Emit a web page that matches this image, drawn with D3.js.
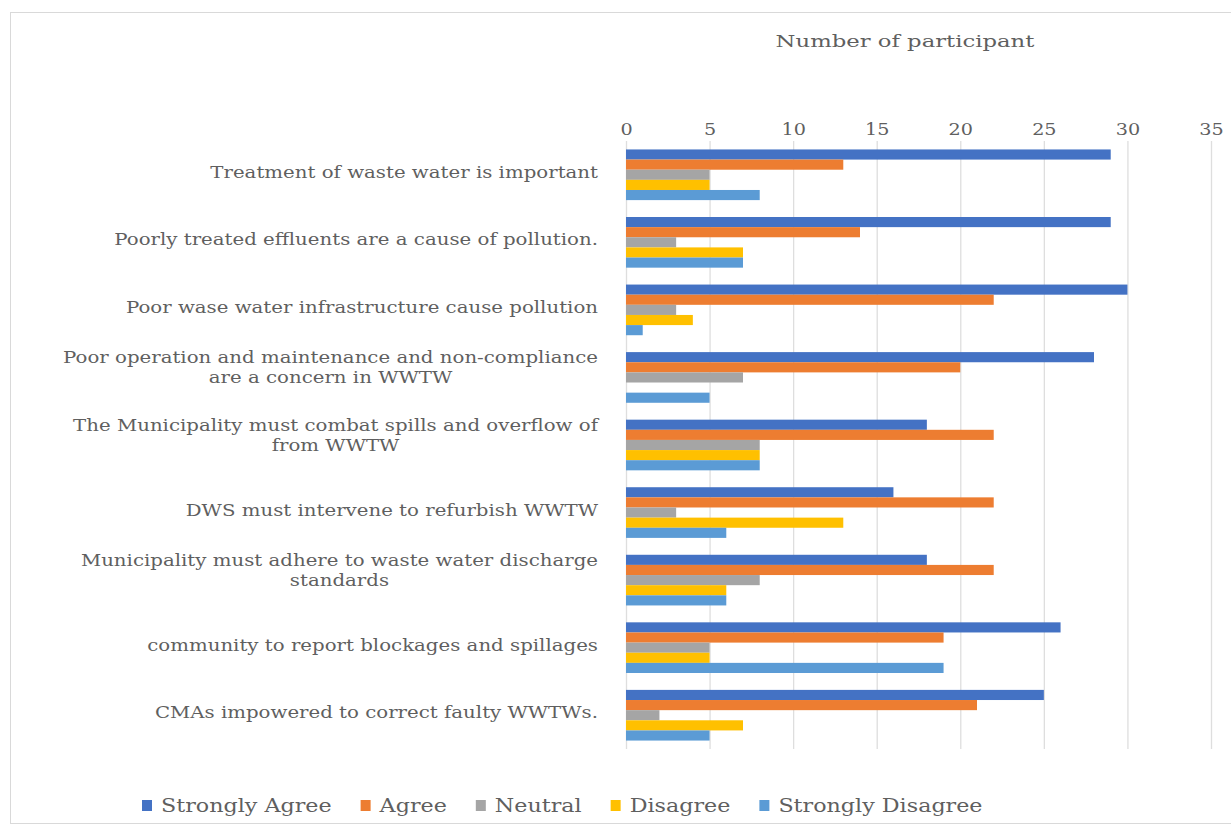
<!DOCTYPE html>
<html><head><meta charset="utf-8">
<script src="https://cdn.jsdelivr.net/npm/d3@7/dist/d3.min.js"></script>
<style>body{margin:0;background:#fff}svg{display:block}</style>
</head><body>
<svg id="c" width="1231" height="834"></svg>
<script>
const categories = [
  ["Treatment of waste water is important"],
  ["Poorly treated effluents are a cause of pollution."],
  ["Poor wase water infrastructure cause pollution"],
  ["Poor operation and maintenance and non-compliance", "are a concern in WWTW"],
  ["The Municipality must combat spills and overflow of", "from WWTW"],
  ["DWS must intervene to  refurbish WWTW"],
  ["Municipality must adhere to waste water discharge", "standards"],
  ["community to report blockages and spillages"],
  ["CMAs impowered to correct faulty WWTWs."]
];
const seriesNames = ["Strongly Agree", "Agree", "Neutral", "Disagree", "Strongly Disagree"];
const stronglyAgree    = [29, 29, 30, 28, 18, 16, 18, 26, 25];
const agree            = [13, 14, 22, 20, 22, 22, 22, 19, 21];
const neutral          = [5, 3, 3, 7, 8, 3, 8, 5, 2];
const disagree         = [5, 7, 4, 0, 8, 13, 6, 5, 7];
const stronglyDisagree = [8, 7, 1, 5, 8, 6, 6, 19, 5];
const tickValues = [0, 5, 10, 15, 20, 25, 30, 35];
const colors = ["#4472C4", "#ED7D31", "#A5A5A5", "#FFC000", "#5B9BD5"];
const axisTitle = "Number of participant";

const series = [stronglyAgree, agree, neutral, disagree, stronglyDisagree];
const svg = d3.select("#c");
const FONT = "'DejaVu Serif', serif";
const TXT = "#5f5f5f";
const SX = 1.235; // horizontal stretch of the reference's type

function stretchedText(parent, x, y, str, size, anchor, sx) {
  const g = parent.append("g").attr("transform", `translate(${x},${y}) scale(${sx},1)`);
  const t = g.append("text").attr("x", 0).attr("y", 0).attr("text-anchor", anchor)
    .attr("font-family", FONT).attr("font-size", size).attr("fill", TXT).text(str);
  return t.node().getComputedTextLength() * sx;
}

// outer border
svg.append("rect").attr("x", 10.5).attr("y", 12.5).attr("width", 1240).attr("height", 811)
  .attr("fill", "none").attr("stroke", "#d9d9d9").attr("stroke-width", 1);

const x = d3.scaleLinear().domain([0, 35]).range([626, 1211]);
const y0 = d3.scaleBand().domain(d3.range(categories.length)).range([141, 749]).paddingInner(0.25).paddingOuter(0.125);
const y1 = d3.scaleBand().domain(d3.range(series.length)).range([0, y0.bandwidth()]);

// gridlines
svg.append("g").selectAll("line").data(tickValues).join("line")
  .attr("x1", d => x(d) + 0.5).attr("x2", d => x(d) + 0.5)
  .attr("y1", 141).attr("y2", 749)
  .attr("stroke", "#dedede").attr("stroke-width", 1.3);

// top axis labels
const ax = d3.axisTop(x).tickValues(tickValues).tickSize(0).tickPadding(0);
const axg = svg.append("g").attr("transform", "translate(0,137)").call(ax);
axg.select(".domain").remove();
axg.selectAll("text").attr("font-family", FONT).attr("font-size", 16).attr("fill", TXT)
  .attr("dy", "-0.1em").attr("transform", "scale(1.2,1)");

stretchedText(svg, 905, 47, axisTitle, 17.5, "middle", 1.3);

// bars
const groups = svg.append("g").selectAll("g").data(categories).join("g")
  .attr("transform", (d, i) => `translate(0,${y0(i)})`);
groups.selectAll("rect").data((d, i) => series.map((s, k) => ({k, v: s[i]}))).join("rect")
  .attr("x", x(0)).attr("y", d => y1(d.k)).attr("height", y1.bandwidth())
  .attr("width", d => x(d.v) - x(0)).attr("fill", d => colors[d.k]);

// category labels
const labelX = 598;
const lab = svg.append("g");
categories.forEach((lines, i) => {
  const cy = y0(i) + y0.bandwidth() / 2;
  if (lines.length === 1) {
    stretchedText(lab, labelX, cy + 3, lines[0], 16, "end", SX);
  } else {
    const w = stretchedText(lab, labelX, cy - 14, lines[0], 16, "end", SX);
    stretchedText(lab, labelX - w / 2, cy + 6, lines[1], 16, "middle", SX);
  }
});

// legend (flow layout)
const lg = svg.append("g");
let lx = 142;
seriesNames.forEach((n, k) => {
  lg.append("rect").attr("x", lx).attr("y", 800).attr("width", 10).attr("height", 11).attr("fill", colors[k]);
  const w = stretchedText(lg, lx + 19, 812, n, 18, "start", 1.235);
  lx += 19 + w + 29;
});
</script>
</body></html>
